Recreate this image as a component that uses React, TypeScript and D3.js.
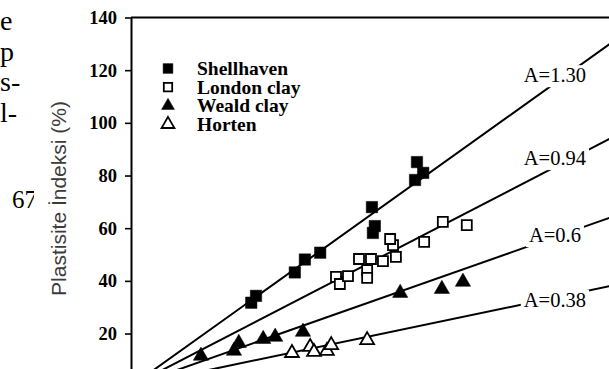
import React, { useEffect, useLayoutEffect, useRef } from "react";
import { axisLeft, line, scaleLinear, select, symbol, symbolSquare, symbolTriangle } from "d3";

const W = 609;
const H = 369;

// clay fraction (%) and plasticity index (%)
const shellClay = [25.1, 26.1, 34.2, 36.3, 39.5, 50.3, 50.9, 50.5, 59.7, 61.0, 59.3];
const shellPI = [31.7, 34.3, 43.2, 48.1, 50.7, 68.0, 60.8, 58.2, 85.1, 81.0, 78.3];

const londonClay = [42.8, 43.6, 45.3, 49.3, 49.3, 47.6, 50.1, 52.6, 55.3, 54.7, 54.1, 61.2, 65.1, 70.1];
const londonPI = [41.5, 38.8, 41.8, 44.1, 41.1, 48.3, 48.3, 47.5, 49.1, 53.6, 55.9, 54.8, 62.4, 61.2];

const wealdClay = [14.6, 21.5, 22.5, 27.6, 30.1, 35.9, 56.2, 64.9, 69.3];
const wealdPI = [11.5, 13.4, 16.4, 17.9, 18.7, 20.6, 35.4, 36.9, 39.6];

const hortenClay = [33.6, 37.4, 38.2, 40.9, 41.8, 49.3];
const hortenPI = [12.6, 14.9, 13.0, 13.4, 15.6, 17.5];

const seriesNames = ["Shellhaven", "London clay", "Weald clay", "Horten"];

// activity lines (slope as drawn) and their labels
const activityDrawn = [1.3, 0.94, 0.64, 0.38];
const activityLabels = ["A=1.30", "A=0.94", "A=0.6", "A=0.38"];
const labelDy = [-1, -2, 5, 9];

const yTicks = [20, 40, 60, 80, 100, 120, 140];

// bits of the page text beside the figure
const pageText = ["e", "p", "s-", "l-"];

const x = scaleLinear().domain([0, 100]).range([131, 610]);
const y = scaleLinear().domain([0, 140]).range([386.2, 17.5]);

const SERIF = "'Liberation Serif', 'Times New Roman', serif";
const SANS = "'Liberation Sans', Arial, sans-serif";

const sq = symbol().type(symbolSquare);
const tri = symbol().type(symbolTriangle);

function Marker({ kind, cx, cy, size }) {
  const gen = kind === "sq" || kind === "osq" ? sq : tri;
  const open = kind === "osq" || kind === "otri";
  const d = gen.size(kind.includes("tri") ? size * 0.75 : size)();
  return (
    <path
      d={d}
      transform={`translate(${cx},${cy})`}
      fill={open ? "#fff" : "#000"}
      stroke="#000"
      strokeWidth={open ? 1.8 : 0.5}
    />
  );
}

function YAxis() {
  const ref = useRef(null);
  useEffect(() => {
    const ax = axisLeft(y).tickValues(yTicks).tickSize(6).tickSizeOuter(0).tickPadding(8);
    const g = select(ref.current).call(ax);
    g.select(".domain").attr("stroke", "#000").attr("stroke-width", 2);
    g.selectAll(".tick line").attr("stroke", "#000").attr("stroke-width", 1.6);
    g.selectAll("text")
      .attr("font-family", SERIF)
      .attr("font-weight", "bold")
      .attr("font-size", "18.5px")
      .attr("fill", "#000");
  }, []);
  return <g ref={ref} transform={`translate(${x(0)},0)`} />;
}

function LineLabel({ text, cx, by }) {
  const tRef = useRef(null);
  const rRef = useRef(null);
  useLayoutEffect(() => {
    const b = tRef.current.getBBox();
    select(rRef.current)
      .attr("x", b.x - 3)
      .attr("y", b.y + 1)
      .attr("width", b.width + 6)
      .attr("height", b.height);
  }, [text]);
  return (
    <g>
      <rect ref={rRef} fill="#fff" />
      <text ref={tRef} x={cx} y={by} textAnchor="middle" fontFamily={SERIF} fontSize={20.5} fill="#000">
        {text}
      </text>
    </g>
  );
}

export default function App() {
  const series = [
    { kind: "sq", xs: shellClay, ys: shellPI, size: 130 },
    { kind: "osq", xs: londonClay, ys: londonPI, size: 100 },
    { kind: "tri", xs: wealdClay, ys: wealdPI, size: 135 },
    { kind: "otri", xs: hortenClay, ys: hortenPI, size: 110 },
  ];
  const labelAt = 88.5;

  return (
    <div style={{ position: "absolute", left: 0, top: 0 }}>
      <svg width={W} height={H} style={{ display: "block", background: "#fff" }}>
        <defs>
          <clipPath id="plot">
            <rect x={0} y={0} width={W} height={H} />
          </clipPath>
        </defs>

        <g fontFamily={SERIF} fontSize={28} fill="#000">
          {pageText.map((t, i) => (
            <text key={t} x={0} y={30 + i * 30.5}>
              {t}
            </text>
          ))}
          <text x={12} y={208} fontSize={25}>
            67
          </text>
        </g>
        <rect x={34} y={185} width={14} height={30} fill="#fff" />

        <text
          transform={`translate(66,${198.5}) rotate(-90)`}
          textAnchor="middle"
          fontFamily={SANS}
          fontSize={21}
          fill="#3c3c3c"
        >
          Plastisite İndeksi (%)
        </text>

        <g clipPath="url(#plot)">
          {activityDrawn.map((a) => (
            <path
              key={a}
              d={line<number>()
                .x((d) => x(d))
                .y((d) => y(a * d))([0, 100]) ?? ""}
              fill="none"
              stroke="#000"
              strokeWidth={2}
            />
          ))}
          {activityLabels.map((t, i) => (
            <LineLabel key={t} text={t} cx={x(labelAt)} by={y(activityDrawn[i] * labelAt) + labelDy[i]} />
          ))}

          {series.map((s) =>
            s.xs.map((v, i) => (
              <Marker key={`${s.kind}-${i}`} kind={s.kind} cx={x(v)} cy={y(s.ys[i])} size={s.size} />
            ))
          )}
        </g>

        <line x1={x(0)} x2={W} y1={y(140)} y2={y(140)} stroke="#000" strokeWidth={2} />
        <YAxis />

        <g>
          {seriesNames.map((name, i) => (
            <g key={name} transform={`translate(168,${68.5 + i * 18.6})`}>
              <Marker kind={series[i].kind} cx={0} cy={0} size={series[i].kind === "osq" ? 70 : 95} />
              <text x={29} y={6.5} fontFamily={SERIF} fontWeight="bold" fontSize={19.5} fill="#000">
                {name}
              </text>
            </g>
          ))}
        </g>
      </svg>
    </div>
  );
}
